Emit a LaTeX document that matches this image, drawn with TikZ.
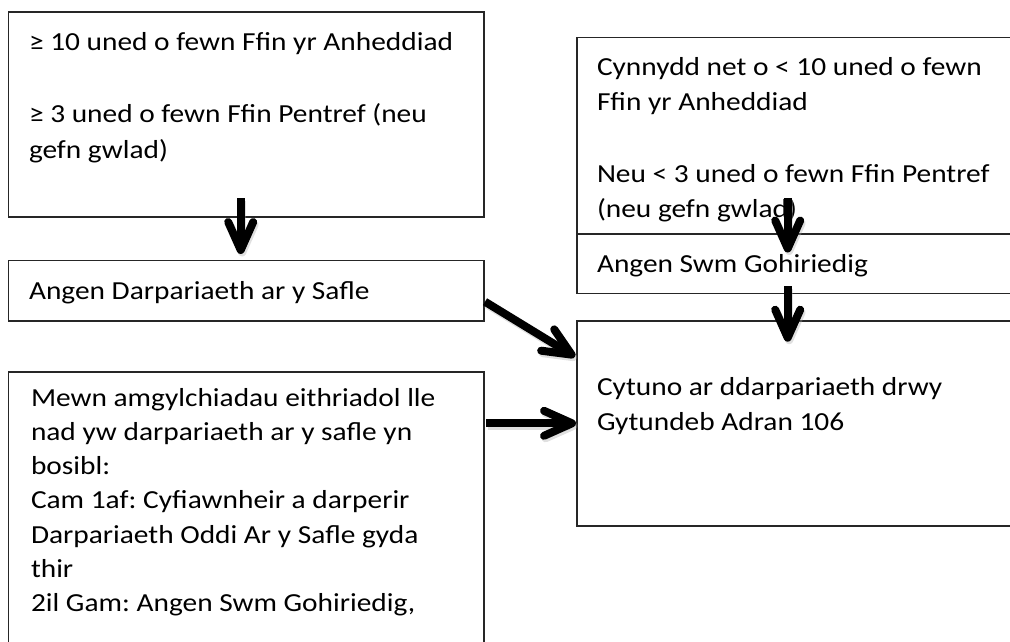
\documentclass[tikz,border=0pt]{standalone}
\usepackage{fontspec}
\setmainfont[FakeStretch=1.13]{Carlito}
\usetikzlibrary{arrows.meta}
\frenchspacing
\begin{document}
\begin{tikzpicture}[x=1pt,y=-1pt,
  box/.style={draw=black!85,line width=1.2pt,anchor=north west,inner sep=0pt,outer sep=0pt},
  txt/.style={anchor=base west,inner sep=0pt,outer sep=0pt,font=\fontsize{26}{35}\selectfont},
  bigarrow/.style={line width=8pt,-{Straight Barb[length=28pt,width=25pt,round]}},
  shadowarrow/.style={bigarrow,draw=black!35,opacity=0.35,transform canvas={shift={(1.5pt,-2.5pt)}}}]
\useasboundingbox (0,0) rectangle (1010,641);
\clip (0,0) rectangle (1010,641);
% boxes
\node[box,minimum width=475.3pt,minimum height=205pt] (A) at (8.7,12) {};
\node[box,minimum width=475.3pt,minimum height=60.5pt] (B) at (8.7,260.5) {};
\node[box,minimum width=475.3pt,minimum height=330pt] (C) at (8.7,372) {};
\node[box,minimum width=445pt,minimum height=196.7pt] (D) at (577,37.3) {};
\node[box,minimum width=445pt,minimum height=59.3pt] (E) at (577,234) {};
\node[box,minimum width=445pt,minimum height=205pt] (F) at (577,321) {};
% texts
\node[txt] (a1) at (29,50) {≥ 10 uned o fewn Ffin yr Anheddiad};
\node[txt] (a2) at (29,122) {≥ 3 uned o fewn Ffin Pentref (neu};
\node[txt] (a3) at (29,158) {gefn gwlad)};
\node[txt] (b1) at (29,299) {Angen Darpariaeth ar y Safle};
\node[txt] (c1) at (31,406) {Mewn amgylchiadau eithriadol lle};
\node[txt] (c2) at (31,440.3) {nad yw darpariaeth ar y safle yn};
\node[txt] (c3) at (31,474.6) {bosibl:};
\node[txt] (c4) at (31,508.9) {Cam 1af: Cyfiawnheir a darperir};
\node[txt] (c5) at (31,543.2) {Darpariaeth Oddi Ar y Safle gyda};
\node[txt] (c6) at (31,577.5) {thir};
\node[txt] (c7) at (31,611.8) {2il Gam: Angen Swm Gohiriedig,};
\node[txt] (d1) at (597,75) {Cynnydd net o < 10 uned o fewn};
\node[txt] (d2) at (597,110.7) {Ffin yr Anheddiad};
\node[txt] (d3) at (597,182) {Neu < 3 uned o fewn Ffin Pentref};
\node[txt] (d4) at (597,217.7) {(neu gefn gwlad)};
\node[txt] (e1) at (597,272.3) {Angen Swm Gohiriedig};
\node[txt] (f1) at (597,395) {Cytuno ar ddarpariaeth drwy};
\node[txt] (f2) at (597,430) {Gytundeb Adran 106};
% arrow end points
\coordinate (ab0) at (240.7,198);  \coordinate (ab1) at (240.7,254);
\coordinate (de0) at (787.7,198);  \coordinate (de1) at (787.7,252.5);
\coordinate (ef0) at (787.7,286);  \coordinate (ef1) at (787.7,341.7);
\coordinate (bf0) at (485,301.7);  \coordinate (bf1) at (575,356.7);
\coordinate (cf0) at (486,423.3);  \coordinate (cf1) at (576,423.3);
% shadows
\foreach \s/\t in {ab0/ab1,de0/de1,ef0/ef1,bf0/bf1,cf0/cf1}
  \draw[shadowarrow] (\s) -- (\t);
% arrows
\draw[bigarrow] (ab0) -- (ab1);
\draw[bigarrow] (de0) -- (de1);
\draw[bigarrow] (ef0) -- (ef1);
\draw[bigarrow] (bf0) -- (bf1);
\draw[bigarrow] (cf0) -- (cf1);
\end{tikzpicture}
\end{document}
